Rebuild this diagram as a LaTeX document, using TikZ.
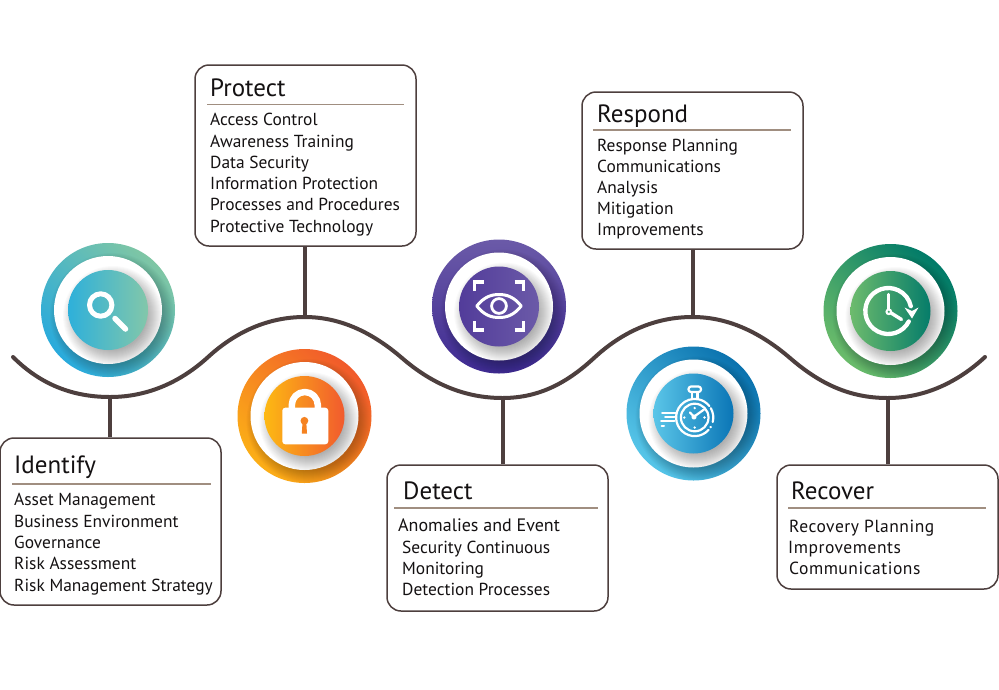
\documentclass[tikz,border=0pt]{standalone}
\usepackage{fontspec}
\setmainfont{PT Sans}
\newfontfamily\widefont[LetterSpace=3]{PT Sans}
\definecolor{line}{HTML}{4D3F3E}
\definecolor{rulec}{HTML}{A08E80}
\definecolor{ink}{HTML}{141112}
\definecolor{keyc}{HTML}{F58220}
\definecolor{pinc}{HTML}{3CA36B}
\tikzset{
  framebox/.style={draw=line,line width=1.5pt,rounded corners=14pt,fill=white,inner sep=0pt},
  conn/.style={draw=line,line width=4pt},
  wave/.style={draw=line,line width=4pt,line cap=round},
  hrule/.style={draw=rulec,line width=1.5pt},
  headtxt/.style={anchor=base west,inner sep=0pt,text=ink,font=\fontsize{25}{28}\selectfont},
  itemtxt/.style={anchor=base west,inner sep=0pt,text=ink,font=\fontsize{17.4}{20}\selectfont},
  wideitem/.style={anchor=base west,inner sep=0pt,text=ink,font=\widefont\fontsize{17.5}{20}\selectfont},
  ico/.style={draw=white,line width=#1,line cap=round,line join=round},
}
% \medal{name}{x}{y}{ring A}{ring B}{angle}{core L}{core R}
\newcommand{\medal}[8]{%
  \definecolor{#1ra}{HTML}{#4}\definecolor{#1rb}{HTML}{#5}%
  \definecolor{#1ca}{HTML}{#7}\definecolor{#1cb}{HTML}{#8}%
  \node[circle,minimum size=134pt,inner sep=0pt,bottom color=#1ra,top color=#1rb,shading angle=#6] (#1ring) at (#2,#3) {};
  \begin{scope}
    \path[clip] (#2,#3) circle (67pt);
    \foreach \rr in {50,51,...,62}{\fill[black,opacity=.02] (#2+4,#3+5) circle (\rr pt);}
  \end{scope}
  \fill[white] (#2,#3) circle (54pt);
  \begin{scope}
    \path[clip] (#2,#3) circle (54pt);
    \foreach \rr in {34,35,...,50}{\fill[black,opacity=.02] (#2+5,#3+6) circle (\rr pt);}
  \end{scope}
  \node[circle,minimum size=80pt,inner sep=0pt,left color=#1ca,right color=#1cb] (#1core) at (#2,#3) {};
}
\begin{document}
\begin{tikzpicture}[x=1pt,y=-1pt]
\useasboundingbox (0,0) rectangle (999,689);
\fill[white] (0,0) rectangle (999,689);

% wave
\coordinate (t1) at (110,397);
\coordinate (c1) at (304.5,317);
\coordinate (t2) at (502.5,398);
\coordinate (c2) at (692.5,317);
\coordinate (t3) at (887.5,398);
\coordinate (w0) at (13,357);
\coordinate (w1) at (985,357);

% boxes
\node[framebox,minimum width=221pt,minimum height=167pt] (identify) at (110.5,521.5) {};
\node[framebox,minimum width=221pt,minimum height=181pt] (protect) at (305.5,155.5) {};
\node[framebox,minimum width=221pt,minimum height=146pt] (detect) at (497.5,538) {};
\node[framebox,minimum width=221pt,minimum height=157pt] (respond) at (692.5,170.5) {};
\node[framebox,minimum width=221pt,minimum height=124pt] (recover) at (887.5,527) {};

% connectors
\draw[conn] (identify.north -| t1) -- (t1);
\draw[conn] (protect.south -| c1) -- (c1);
\draw[conn] (detect.north -| t2) -- (t2);
\draw[conn] (respond.south -| c2) -- (c2);
\draw[conn] (recover.north -| t3) -- (t3);

\draw[wave] (w0) .. controls (40,384) and (72,397) .. (t1)
  .. controls (145,397) and (178,384) .. (207,358)
  .. controls (235,332) and (268,317) .. (c1)
  .. controls (342,317) and (374,334) .. (402,358)
  .. controls (432,384) and (465,398) .. (t2)
  .. controls (540,398) and (568,382) .. (594,358)
  .. controls (622,332) and (655,317) .. (c2)
  .. controls (730,317) and (762,334) .. (790,358)
  .. controls (820,384) and (850,398) .. (t3)
  .. controls (925,398) and (958,382) .. (w1);

% medals
\medal{a}{108}{310}{29AADC}{7FC6A4}{-45}{2EB0DA}{82C7AA}
\medal{b}{304.5}{416}{FBAE17}{F15A2B}{-45}{FDB913}{F15A2E}
\medal{c}{499}{306.5}{3E2A91}{6B5AA8}{0}{523C9A}{6B5AA8}
\medal{d}{693.5}{413.5}{56C5E8}{0A72AE}{-45}{5BC5E8}{0A76B6}
\medal{e}{890.5}{311}{6ABB6A}{007A68}{-45}{6DBB6D}{057C6A}

% magnifier
\draw[ico=5pt] (100.7,305) circle (11.2pt);
\draw[ico=5.5pt] (115,318.5) -- (125.5,329);

% padlock
\draw[ico=6.5pt,line cap=butt] (291.8,408) -- (291.8,405) arc (180:0:13pt) -- (317.8,408);
\fill[white,rounded corners=3pt] (282.3,407.7) rectangle (328.3,444.3);
\fill[keyc] (304.4,420.8) circle (3.9pt);
\fill[keyc] (302.6,421) -- (306.2,421) -- (307,433.5) -- (301.8,433.5) -- cycle;

% eye
\draw[ico=3pt] (476.8,306) .. controls (484,297) and (491,294.5) .. (499,294.5)
   .. controls (507,294.5) and (514,297) .. (521.2,306)
   .. controls (514,315) and (507,317.5) .. (499,317.5)
   .. controls (491,317.5) and (484,315) .. (476.8,306) -- cycle;
\draw[ico=2.8pt] (499,306) circle (7.4pt);
\draw[ico=3.2pt,line cap=butt,line join=miter] (474.5,291) -- (474.5,282) -- (483.5,282);
\draw[ico=3.2pt,line cap=butt,line join=miter] (514.5,282) -- (523.5,282) -- (523.5,291);
\draw[ico=3.2pt,line cap=butt,line join=miter] (474.5,321) -- (474.5,330) -- (483.5,330);
\draw[ico=3.2pt,line cap=butt,line join=miter] (514.5,330) -- (523.5,330) -- (523.5,321);

% stopwatch
\draw[ico=2.2pt] (694.7,417.5) circle (13.8pt);
\draw[ico=2.2pt] (694.7,417.5) ++(-42:18.6pt) arc (-42:-322:18.6pt);
\draw[ico=2.2pt] (694.7,417.5) ++(-30:18.6pt) arc (-30:-32:18.6pt);
\draw[ico=2.2pt] (694.7,417.5) ++(30:18.6pt) arc (30:-14:18.6pt);
\draw[ico=2.2pt,rounded corners=2.5pt] (688.5,392) rectangle (701,386.5);
\draw[ico=2.2pt,line cap=butt] (692,392) -- (692,398.8);
\draw[ico=2.2pt,line cap=butt] (697.5,392) -- (697.5,398.8);
\draw[ico=2.2pt] (694,417) circle (1.7pt);
\draw[ico=2.2pt] (695.2,415.8) -- (704,409.5);
\draw[ico=2.2pt] (692.8,415.5) -- (690,412.5);
\fill[white] (694.7,408) circle (1.3pt) (704.5,417.5) circle (1.3pt) (694.7,427.5) circle (1.3pt) (684.3,417.5) circle (1.3pt);
\draw[ico=2pt] (662,412.5) -- (676,412.5);
\draw[ico=2pt] (665,416.8) -- (674.5,416.8);
\draw[ico=2pt] (661,421.2) -- (674.5,421.2);
\draw[ico=2pt] (661.5,425.8) -- (664,425.8);

% clock with return arrow
\draw[ico=4.3pt] (888.3,311) ++(-27:23pt) arc (-27:-348:23pt);
\fill[white] (904.5,307.5) -- (912,311) -- (918.5,307.5) -- (912,318.5) -- cycle;
\draw[ico=3.4pt] (888.3,311) -- (888.3,294.5);
\draw[ico=3.4pt] (889.5,312) -- (901.5,319.5);
\fill[white] (888.8,311.8) circle (3.4pt);
\fill[pinc] (888.8,311.8) circle (1.2pt);

% Identify
\node[headtxt] (h1) at (14,473) {Identify};
\draw[hrule] (12,484) -- (211,484);
\node[itemtxt] (i1) at (14,505) {Asset Management};
\node[itemtxt] (i2) at (14,527) {Business Environment};
\node[itemtxt] (i3) at (14,548) {Governance};
\node[itemtxt] (i4) at (14,569) {Risk Assessment};
\node[itemtxt] (i5) at (14,591) {Risk Management Strategy};

% Protect
\node[headtxt] (h2) at (210,96) {Protect};
\draw[hrule] (207,104.7) -- (404,104.7);
\node[itemtxt] (p1) at (210,125) {Access Control};
\node[itemtxt] (p2) at (210,147) {Awareness Training};
\node[itemtxt] (p3) at (210,168) {Data Security};
\node[itemtxt] (p4) at (210,189) {Information Protection};
\node[itemtxt] (p5) at (210,210) {Processes and Procedures};
\node[itemtxt] (p6) at (210,232) {Protective Technology};

% Detect
\node[headtxt] (h3) at (403,499) {Detect};
\draw[hrule] (394,508) -- (598,508);
\node[itemtxt,font=\fontsize{18}{20}\selectfont] (d1) at (398,531) {Anomalies and Event};
\node[itemtxt] (d2) at (402,553) {Security Continuous};
\node[itemtxt] (d3) at (402,574) {Monitoring};
\node[itemtxt] (d4) at (402,595) {Detection Processes};

% Respond
\node[headtxt] (h4) at (597,122) {Respond};
\draw[hrule] (593,130) -- (791,130);
\node[itemtxt] (r1) at (597,151) {Response Planning};
\node[itemtxt] (r2) at (597,172) {Communications};
\node[itemtxt] (r3) at (597,193) {Analysis};
\node[itemtxt] (r4) at (597,214) {Mitigation};
\node[itemtxt] (r5) at (597,235) {Improvements};

% Recover
\node[headtxt] (h5) at (791,499) {Recover};
\draw[hrule] (788,508) -- (986,508);
\node[wideitem] (v1) at (789,532) {Recovery Planning};
\node[wideitem] (v2) at (788,553) {Improvements};
\node[wideitem] (v3) at (789,574) {Communications};
\end{tikzpicture}
\end{document}
